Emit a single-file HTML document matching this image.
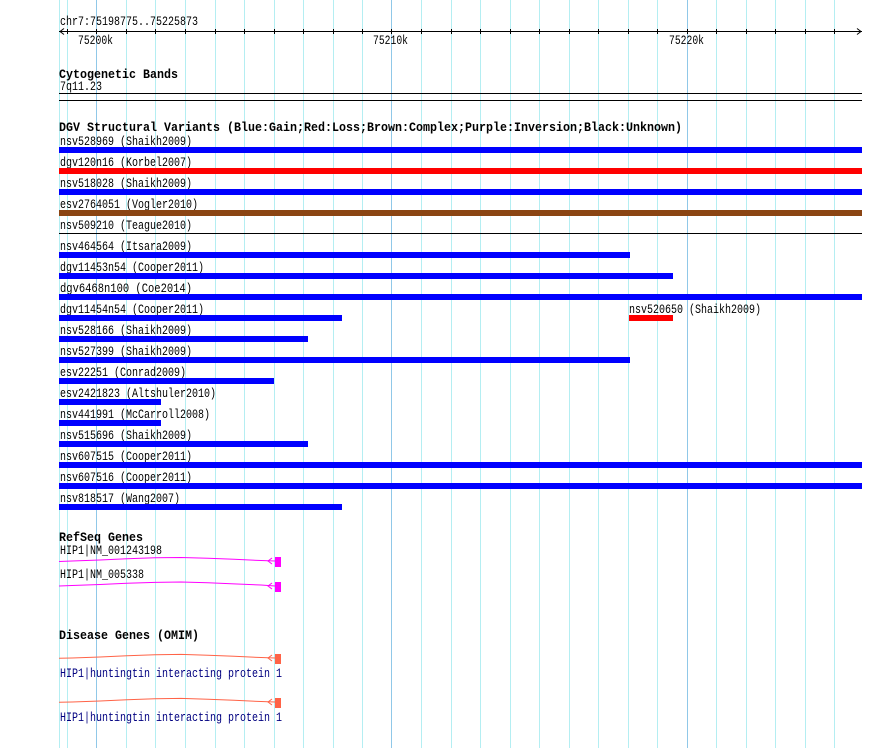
<!DOCTYPE html>
<html><head><meta charset="utf-8"><style>
html,body{margin:0;padding:0;background:#fff;}
svg{display:block;}
text{font-family:"Liberation Mono",monospace;font-size:12.5px;fill:#000;}
.b{font-weight:bold;font-size:13px;}
.n{fill:#000080;}
</style></head><body>
<svg width="890" height="748" viewBox="0 0 890 748" xmlns="http://www.w3.org/2000/svg" shape-rendering="crispEdges">
<rect width="890" height="748" fill="#fff"/>
<g stroke="#b4eef2" stroke-width="1">
<line x1="59.5" y1="0" x2="59.5" y2="748"/>
<line x1="67.5" y1="0" x2="67.5" y2="748"/>
<line x1="126.5" y1="0" x2="126.5" y2="748"/>
<line x1="155.5" y1="0" x2="155.5" y2="748"/>
<line x1="185.5" y1="0" x2="185.5" y2="748"/>
<line x1="215.5" y1="0" x2="215.5" y2="748"/>
<line x1="244.5" y1="0" x2="244.5" y2="748"/>
<line x1="274.5" y1="0" x2="274.5" y2="748"/>
<line x1="303.5" y1="0" x2="303.5" y2="748"/>
<line x1="333.5" y1="0" x2="333.5" y2="748"/>
<line x1="362.5" y1="0" x2="362.5" y2="748"/>
<line x1="421.5" y1="0" x2="421.5" y2="748"/>
<line x1="451.5" y1="0" x2="451.5" y2="748"/>
<line x1="480.5" y1="0" x2="480.5" y2="748"/>
<line x1="510.5" y1="0" x2="510.5" y2="748"/>
<line x1="539.5" y1="0" x2="539.5" y2="748"/>
<line x1="569.5" y1="0" x2="569.5" y2="748"/>
<line x1="598.5" y1="0" x2="598.5" y2="748"/>
<line x1="628.5" y1="0" x2="628.5" y2="748"/>
<line x1="657.5" y1="0" x2="657.5" y2="748"/>
<line x1="716.5" y1="0" x2="716.5" y2="748"/>
<line x1="746.5" y1="0" x2="746.5" y2="748"/>
<line x1="775.5" y1="0" x2="775.5" y2="748"/>
<line x1="805.5" y1="0" x2="805.5" y2="748"/>
<line x1="834.5" y1="0" x2="834.5" y2="748"/>
</g>
<g stroke="#90c8e8" stroke-width="1">
<line x1="96.5" y1="0" x2="96.5" y2="748"/>
<line x1="391.5" y1="0" x2="391.5" y2="748"/>
<line x1="687.5" y1="0" x2="687.5" y2="748"/>
</g>

<!-- ruler -->
<text x="60" y="25" textLength="138" lengthAdjust="spacingAndGlyphs">chr7:75198775..75225873</text>
<g stroke="#000" stroke-width="1" fill="none">
<line x1="59" y1="31.5" x2="862" y2="31.5"/>
<polyline points="64,28.5 60,31.5 64,34.5" shape-rendering="auto"/>
<polyline points="857,28.5 861,31.5 857,34.5" shape-rendering="auto"/>
<path d="M67.5 29v5M96.5 29v5M126.5 29v5M155.5 29v5M185.5 29v5M215.5 29v5M244.5 29v5M274.5 29v5M303.5 29v5M333.5 29v5M362.5 29v5M391.5 29v5M421.5 29v5M451.5 29v5M480.5 29v5M510.5 29v5M539.5 29v5M569.5 29v5M598.5 29v5M628.5 29v5M657.5 29v5M687.5 29v5M716.5 29v5M746.5 29v5M775.5 29v5M805.5 29v5M834.5 29v5"/>
</g>
<text x="78" y="44" textLength="35" lengthAdjust="spacingAndGlyphs">75200k</text>
<text x="373" y="44" textLength="35" lengthAdjust="spacingAndGlyphs">75210k</text>
<text x="669" y="44" textLength="35" lengthAdjust="spacingAndGlyphs">75220k</text>

<!-- cytogenetic bands -->
<text class="b" x="59" y="78" textLength="119" lengthAdjust="spacingAndGlyphs">Cytogenetic Bands</text>
<text x="60" y="90" textLength="42" lengthAdjust="spacingAndGlyphs">7q11.23</text>
<rect x="59" y="93" width="803" height="1" fill="#000"/>
<rect x="59" y="100" width="803" height="1" fill="#000"/>

<!-- DGV -->
<text class="b" x="59" y="131" textLength="623" lengthAdjust="spacingAndGlyphs">DGV Structural Variants (Blue:Gain;Red:Loss;Brown:Complex;Purple:Inversion;Black:Unknown)</text>

<text x="60" y="145" textLength="132" lengthAdjust="spacingAndGlyphs">nsv528969 (Shaikh2009)</text>
<rect x="59" y="147" width="803" height="6" fill="#0000ff"/>
<text x="60" y="166" textLength="132" lengthAdjust="spacingAndGlyphs">dgv120n16 (Korbel2007)</text>
<rect x="59" y="168" width="803" height="6" fill="#ff0000"/>
<text x="60" y="187" textLength="132" lengthAdjust="spacingAndGlyphs">nsv518028 (Shaikh2009)</text>
<rect x="59" y="189" width="803" height="6" fill="#0000ff"/>
<text x="60" y="208" textLength="138" lengthAdjust="spacingAndGlyphs">esv2764051 (Vogler2010)</text>
<rect x="59" y="210" width="803" height="6" fill="#8b4513"/>
<text x="60" y="229" textLength="132" lengthAdjust="spacingAndGlyphs">nsv509210 (Teague2010)</text>
<rect x="59" y="233" width="803" height="1" fill="#000"/>
<text x="60" y="250" textLength="132" lengthAdjust="spacingAndGlyphs">nsv464564 (Itsara2009)</text>
<rect x="59" y="252" width="571" height="6" fill="#0000ff"/>
<text x="60" y="271" textLength="144" lengthAdjust="spacingAndGlyphs">dgv11453n54 (Cooper2011)</text>
<rect x="59" y="273" width="614" height="6" fill="#0000ff"/>
<text x="60" y="292" textLength="132" lengthAdjust="spacingAndGlyphs">dgv6468n100 (Coe2014)</text>
<rect x="59" y="294" width="803" height="6" fill="#0000ff"/>
<text x="60" y="313" textLength="144" lengthAdjust="spacingAndGlyphs">dgv11454n54 (Cooper2011)</text>
<rect x="59" y="315" width="283" height="6" fill="#0000ff"/>
<text x="629" y="313" textLength="132" lengthAdjust="spacingAndGlyphs">nsv520650 (Shaikh2009)</text>
<rect x="629" y="315" width="44" height="6" fill="#ff0000"/>
<text x="60" y="334" textLength="132" lengthAdjust="spacingAndGlyphs">nsv528166 (Shaikh2009)</text>
<rect x="59" y="336" width="249" height="6" fill="#0000ff"/>
<text x="60" y="355" textLength="132" lengthAdjust="spacingAndGlyphs">nsv527399 (Shaikh2009)</text>
<rect x="59" y="357" width="571" height="6" fill="#0000ff"/>
<text x="60" y="376" textLength="126" lengthAdjust="spacingAndGlyphs">esv22251 (Conrad2009)</text>
<rect x="59" y="378" width="215" height="6" fill="#0000ff"/>
<text x="60" y="397" textLength="156" lengthAdjust="spacingAndGlyphs">esv2421823 (Altshuler2010)</text>
<rect x="59" y="399" width="102" height="6" fill="#0000ff"/>
<text x="60" y="418" textLength="150" lengthAdjust="spacingAndGlyphs">nsv441991 (McCarroll2008)</text>
<rect x="59" y="420" width="102" height="6" fill="#0000ff"/>
<text x="60" y="439" textLength="132" lengthAdjust="spacingAndGlyphs">nsv515696 (Shaikh2009)</text>
<rect x="59" y="441" width="249" height="6" fill="#0000ff"/>
<text x="60" y="460" textLength="132" lengthAdjust="spacingAndGlyphs">nsv607515 (Cooper2011)</text>
<rect x="59" y="462" width="803" height="6" fill="#0000ff"/>
<text x="60" y="481" textLength="132" lengthAdjust="spacingAndGlyphs">nsv607516 (Cooper2011)</text>
<rect x="59" y="483" width="803" height="6" fill="#0000ff"/>
<text x="60" y="502" textLength="120" lengthAdjust="spacingAndGlyphs">nsv818517 (Wang2007)</text>
<rect x="59" y="504" width="283" height="6" fill="#0000ff"/>

<!-- RefSeq -->
<text class="b" x="59" y="541" textLength="84" lengthAdjust="spacingAndGlyphs">RefSeq Genes</text>
<text x="60" y="554" textLength="102" lengthAdjust="spacingAndGlyphs">HIP1|NM_001243198</text>
<g fill="none" stroke="#ff00ff" stroke-width="1" shape-rendering="auto">
<path d="M59 561.5 L72 561 L100 560 L127 558.8 L155 557.8 L181 557.5 L208 558.2 L234 559.3 L261 560.5 L275 561"/>
<polyline points="272,558 268,561 272,564"/>
<path d="M59 586 L72 585.5 L100 584.5 L127 583.3 L155 582.4 L181 582 L208 582.8 L234 583.9 L261 585 L275 586"/>
<polyline points="272,583 268,586 272,589"/>
</g>
<rect x="275" y="557" width="6" height="10" fill="#ff00ff"/>
<text x="60" y="578" textLength="84" lengthAdjust="spacingAndGlyphs">HIP1|NM_005338</text>
<rect x="275" y="582" width="6" height="10" fill="#ff00ff"/>

<!-- Disease -->
<text class="b" x="59" y="639" textLength="140" lengthAdjust="spacingAndGlyphs">Disease Genes (OMIM)</text>
<g fill="none" stroke="#ff6347" stroke-width="1" shape-rendering="auto">
<path d="M59 658.3 L72 658 L100 657 L127 655.8 L155 654.8 L181 654.4 L208 655.2 L234 656.3 L261 657.5 L275 658"/>
<polyline points="272,655 268,658 272,661"/>
<path d="M59 702.3 L72 702 L100 701 L127 699.8 L155 698.8 L181 698.4 L208 699.2 L234 700.3 L261 701.5 L275 702"/>
<polyline points="272,699 268,702 272,705"/>
</g>
<rect x="275" y="654" width="6" height="10" fill="#ff6347"/>
<text class="n" x="60" y="677" textLength="222" lengthAdjust="spacingAndGlyphs">HIP1|huntingtin interacting protein 1</text>
<rect x="275" y="698" width="6" height="10" fill="#ff6347"/>
<text class="n" x="60" y="721" textLength="222" lengthAdjust="spacingAndGlyphs">HIP1|huntingtin interacting protein 1</text>
</svg>
</body></html>
